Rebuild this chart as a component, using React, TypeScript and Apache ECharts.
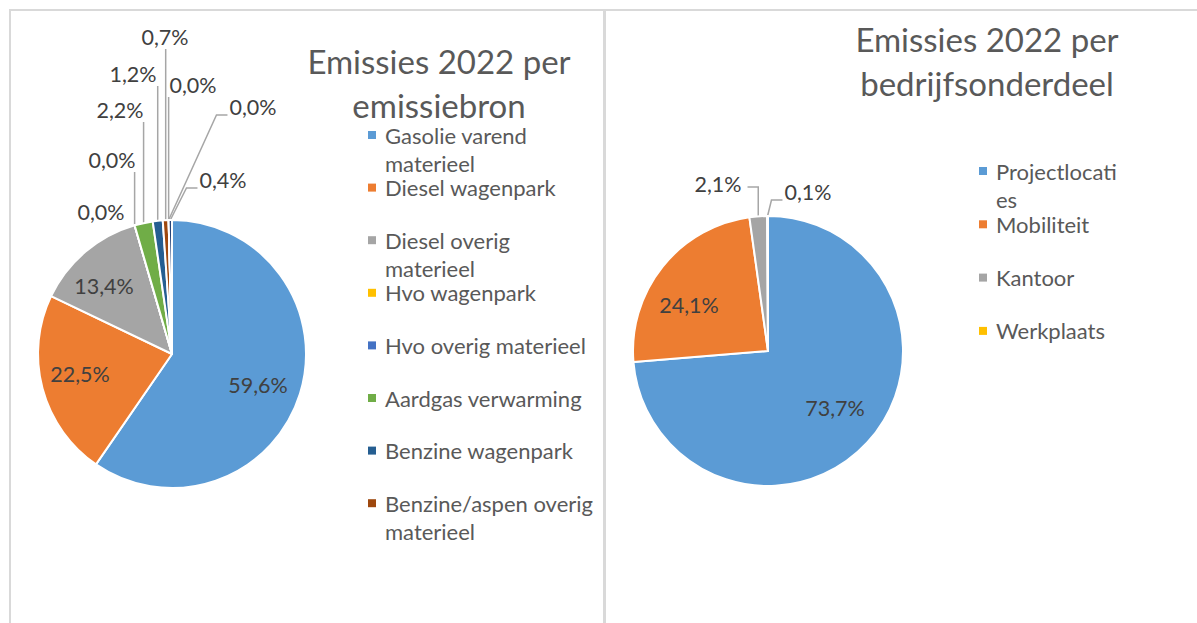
import React, { useEffect, useRef } from 'react';
import * as echarts from 'echarts';

// ---- data ----
const sourceNames = [
  'Gasolie varend materieel',
  'Diesel wagenpark',
  'Diesel overig materieel',
  'Hvo wagenpark',
  'Hvo overig materieel',
  'Aardgas verwarming',
  'Benzine wagenpark',
  'Benzine/aspen overig materieel',
  'Overige bron 9',
  'Overige bron 10',
  'Overige bron 11',
];
const sourceShares = [59.6, 22.5, 13.4, 0.0, 0.0, 2.2, 1.2, 0.7, 0.0, 0.0, 0.4];
const sourceLegendText = [
  'Gasolie varend\nmaterieel',
  'Diesel wagenpark',
  'Diesel overig\nmaterieel',
  'Hvo wagenpark',
  'Hvo overig materieel',
  'Aardgas verwarming',
  'Benzine wagenpark',
  'Benzine/aspen overig\nmaterieel',
];
const sourceTitleLines = ['Emissies 2022 per', 'emissiebron'];

const unitNames = ['Projectlocaties', 'Mobiliteit', 'Kantoor', 'Werkplaats'];
const unitShares = [73.7, 24.1, 2.1, 0.1];
const unitLegendText = ['Projectlocati\nes', 'Mobiliteit', 'Kantoor', 'Werkplaats'];
const unitTitleLines = ['Emissies 2022 per', 'bedrijfsonderdeel'];

// ---- layout (label placement as in the original) ----
const sourceLabelPos = [
  [258, 385], [80, 374], [104, 286], [101, 212], [112, 160], [120, 110],
  [133, 74], [165, 37], [193, 85], [253, 107], [223, 180],
];
const sourceInside = [0, 1, 2];
const unitLabelPos = [[835, 408], [689, 305], [718, 184], [808, 192]];
const unitInside = [0, 1];

const sourceColors = ['#5B9BD5', '#ED7D31', '#A5A5A5', '#FFC000', '#4472C4', '#70AD47', '#255E91', '#9E480E', '#636363', '#997300', '#264478'];
const unitColors = ['#5B9BD5', '#ED7D31', '#A5A5A5', '#FFC000'];

const FONT = 'Lato';
const LABEL_COLOR = '#404040';
const TEXT_COLOR = '#595959';
const BORDER = '#D9D9D9';
const LEGEND_LH = 28;
const TITLE_LH = 33;

function leader(anchor: number[], cx: number, cy: number, w: number) {
  const [ax, ay] = anchor;
  const left = cx - w / 2;
  const right = cx + w / 2;
  if (ax >= left - 4 && ax <= right + 4) return [[ax, ay], [ax, cy + 12]];
  if (ax < left) return [[ax, ay], [left - 13, cy + 8], [left - 2, cy + 8]];
  return [[ax, ay], [ax, cy + 3], [right + 6, cy + 3]];
}

function makeTitles(lines: string[], x: number, firstCenter: number, gap: number) {
  return lines.map((t, i) => ({
    text: t,
    left: x,
    top: firstCenter + i * gap - TITLE_LH / 2,
    textAlign: 'center',
    padding: 0,
    textStyle: { fontFamily: FONT, fontSize: 33, fontWeight: 'normal', color: TEXT_COLOR, lineHeight: TITLE_LH },
  }));
}

function makeLegends(names: string[], texts: string[], x: number, y0: number, step: number) {
  return texts.map((t, i) => {
    const two = t.includes('\n');
    // a leading empty line keeps the marker level with the first text line
    const shown = two ? '\n' + t : t;
    return {
      data: [names[i]],
      orient: 'vertical',
      left: x,
      top: y0 + i * step - (two ? LEGEND_LH * 1.5 : LEGEND_LH / 2),
      padding: 0,
      itemWidth: 8,
      itemHeight: 8,
      icon: 'rect',
      selectedMode: false,
      itemStyle: { borderWidth: 0 },
      formatter: () => shown,
      textStyle: {
        fontFamily: FONT,
        fontSize: 22,
        color: TEXT_COLOR,
        lineHeight: LEGEND_LH,
        padding: [0, 0, 0, 4],
      },
    };
  });
}

function makePie(names: string[], values: number[], colors: string[], center: number[], radius: number, pos: number[][], inside: number[], noLine: number[]) {
  return {
    type: 'pie',
    center,
    radius,
    startAngle: 90,
    clockwise: true,
    avoidLabelOverlap: false,
    emphasis: { disabled: true },
    itemStyle: { borderColor: '#ffffff', borderWidth: 2 },
    label: {
      show: true,
      position: 'outside',
      fontFamily: FONT,
      fontSize: 21.5,
      color: LABEL_COLOR,
      formatter: (p: any) => p.percent.toFixed(1).replace('.', ',') + '%',
    },
    labelLine: { show: true, length: 10, length2: 10, lineStyle: { color: '#A6A6A6', width: 1.5 } },
    labelLayout: (p: any) => {
      const [cx, cy] = pos[p.dataIndex];
      const res: any = { x: cx, y: cy, align: 'center', verticalAlign: 'middle' };
      if (p.labelLinePoints && p.labelLinePoints.length) {
        res.labelLinePoints = leader(p.labelLinePoints[0], cx, cy, p.labelRect.width);
      }
      return res;
    },
    data: names.map((n, i) => ({
      name: n,
      value: values[i],
      itemStyle: { color: colors[i] },
      label: inside.includes(i) ? { position: 'inside' } : undefined,
      labelLine: inside.includes(i) || noLine.includes(i) ? { show: false } : undefined,
    })),
  };
}

export default function App() {
  const ref = useRef<HTMLDivElement>(null);
  useEffect(() => {
    const chart = echarts.init(ref.current!, null, { renderer: 'svg' });
    chart.setOption({
      animation: false,
      backgroundColor: '#ffffff',
      title: [
        ...makeTitles(sourceTitleLines, 439, 61, 44),
        ...makeTitles(unitTitleLines, 987, 39, 44),
      ],
      legend: [
        ...makeLegends(sourceNames, sourceLegendText, 368, 135, 52.6),
        ...makeLegends(unitNames, unitLegendText, 979, 171, 53.3),
      ],
      graphic: [
        { type: 'rect', shape: { x: 9, y: 9, width: 1188, height: 2 }, style: { fill: BORDER }, silent: true },
        { type: 'rect', shape: { x: 9, y: 9, width: 2, height: 614 }, style: { fill: BORDER }, silent: true },
        { type: 'rect', shape: { x: 603, y: 9, width: 3, height: 614 }, style: { fill: BORDER }, silent: true },
      ],
      series: [
        makePie(sourceNames, sourceShares, sourceColors, [172, 354], 134, sourceLabelPos, sourceInside, [3]),
        makePie(unitNames, unitShares, unitColors, [768, 351], 135, unitLabelPos, unitInside, []),
      ],
    });
    return () => chart.dispose();
  }, []);
  return (
    <div
      ref={ref}
      style={{ position: 'fixed', left: 0, top: 0, width: 1197, height: 623, background: '#ffffff' }}
    />
  );
}
